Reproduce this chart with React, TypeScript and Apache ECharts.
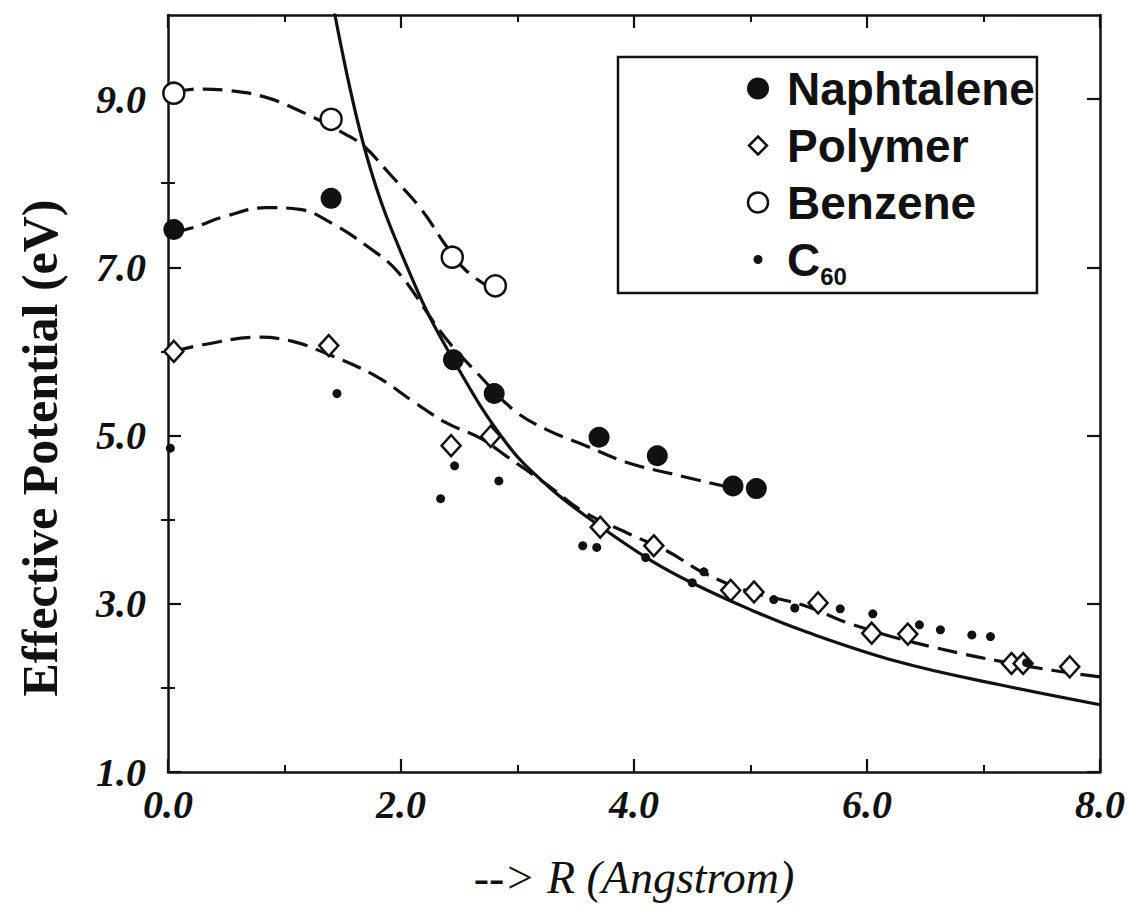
import React, { useEffect, useRef } from "react";
import * as echarts from "echarts";

// ---------- data ----------
const naphtaleneX = [0.05, 1.4, 2.45, 2.8, 3.7, 4.2, 4.85, 5.05];
const naphtaleneY = [7.45, 7.82, 5.9, 5.5, 4.98, 4.76, 4.4, 4.37];

const polymerX = [0.05, 1.38, 2.43, 2.77, 3.71, 4.17, 4.83, 5.03, 5.58, 6.04, 6.35, 7.24, 7.34, 7.74];
const polymerY = [6.0, 6.07, 4.88, 4.99, 3.91, 3.69, 3.16, 3.14, 3.01, 2.65, 2.64, 2.29, 2.29, 2.25];

const benzeneX = [0.05, 1.4, 2.44, 2.81];
const benzeneY = [9.07, 8.76, 7.12, 6.78];

const c60X = [0.02, 1.45, 2.34, 2.46, 2.84, 3.56, 3.68, 4.1, 4.5, 4.6, 5.2, 5.38, 5.77, 6.05, 6.45, 6.63, 6.9, 7.06, 7.37];
const c60Y = [4.85, 5.5, 4.25, 4.64, 4.46, 3.69, 3.67, 3.55, 3.25, 3.38, 3.05, 2.95, 2.94, 2.88, 2.75, 2.69, 2.63, 2.61, 2.3];

// fitted curves
const solidCurveX = [1.38, 1.7, 2.1, 2.47, 2.91, 3.26, 3.61, 4.14, 4.54, 5.0, 5.43, 6.27, 7.13, 8.0];
const solidCurveY = [10.4, 8.35, 6.85, 5.85, 4.9, 4.4, 4.02, 3.52, 3.22, 2.93, 2.69, 2.31, 2.04, 1.8];

const benzeneFitX = [0.05, 0.25, 0.53, 0.82, 1.1, 1.54, 1.69, 1.89, 2.18, 2.39, 2.56, 2.81];
const benzeneFitY = [9.08, 9.12, 9.1, 9.03, 8.88, 8.57, 8.43, 8.13, 7.68, 7.25, 6.96, 6.72];

const naphtaleneFitX = [0.05, 0.21, 0.5, 0.84, 1.13, 1.41, 1.71, 1.97, 2.37, 2.67, 2.97, 3.25, 3.55, 3.94, 4.37, 4.8];
const naphtaleneFitY = [7.42, 7.47, 7.61, 7.71, 7.69, 7.52, 7.25, 6.95, 6.18, 5.72, 5.3, 5.07, 4.9, 4.68, 4.53, 4.39];

const polymerFitX = [0.05, 0.3, 0.78, 1.07, 1.35, 1.78, 2.11, 2.39, 2.68, 2.91, 3.26, 3.56, 3.96, 4.28, 4.61, 5.0, 5.46, 5.86, 6.55, 7.41, 8.0];
const polymerFitY = [6.0, 6.08, 6.17, 6.12, 5.98, 5.71, 5.4, 5.15, 4.97, 4.75, 4.41, 4.1, 3.83, 3.63, 3.36, 3.14, 2.98, 2.76, 2.49, 2.25, 2.13];

const xTickLabels = [0, 2, 4, 6, 8];
const yTickLabels = [1, 3, 5, 7, 9];
const yMinorTicks = [2, 4, 6, 8];
const legendNames = ["Naphtalene", "Polymer", "Benzene", "C60"];

const INK = "#111";
const SERIF = "'Liberation Serif', 'Times New Roman', serif";
const SANS = "'Liberation Sans', Arial, sans-serif";

const zip = (xs: number[], ys: number[]) => xs.map((x, i) => [x, ys[i]]);

const svgIcon = (inner: string) =>
  "image://data:image/svg+xml;charset=utf-8," +
  encodeURIComponent(
    `<svg xmlns="http://www.w3.org/2000/svg" width="48" height="24" viewBox="0 0 48 24">${inner}</svg>`
  );

const legendIcons: Record<string, string> = {
  Naphtalene: svgIcon(`<circle cx="24" cy="12" r="11" fill="${INK}"/>`),
  Polymer: svgIcon(`<polygon points="24,3 33,12 24,21 15,12" fill="#fff" stroke="${INK}" stroke-width="2.5"/>`),
  Benzene: svgIcon(`<circle cx="24" cy="12" r="10" fill="#fff" stroke="${INK}" stroke-width="2.5"/>`),
  C60: svgIcon(`<circle cx="24" cy="12" r="4.5" fill="${INK}"/>`),
};

const XMIN = 0, XMAX = 8, YMIN = 1, YMAX = 10;

export default function App() {
  const ref = useRef<HTMLDivElement>(null);

  useEffect(() => {
    document.body.style.margin = "0";
    if (!ref.current) return;
    const chart = echarts.init(ref.current, null, { renderer: "svg" });

    const axisLine = { show: true, onZero: false, lineStyle: { color: INK, width: 2.5 } };
    const majorTick = { show: true, inside: true, length: 13, lineStyle: { color: INK, width: 2.2 } };
    const minorTickY = { show: true, inside: true, length: 7, lineStyle: { color: INK, width: 2 }, customValues: yMinorTicks };
    const tickLabel = {
      color: INK,
      fontFamily: SERIF,
      fontStyle: "italic" as const,
      fontWeight: "bold" as const,
      fontSize: 40,
    };

    const xBase = {
      type: "value" as const,
      min: XMIN,
      max: XMAX,
      interval: 2,
      splitLine: { show: false },
      minorSplitLine: { show: false },
      minorTick: { show: true, splitNumber: 2, length: 7, lineStyle: { color: INK, width: 2 } },
      axisTick: majorTick,
      axisLine,
    };
    const yBase = {
      type: "value" as const,
      min: YMIN,
      max: YMAX,
      interval: 2,
      splitLine: { show: false },
      axisLine,
      axisTick: { ...majorTick, customValues: yTickLabels },
    };

    const curve = (name: string, xs: number[], ys: number[], type: any) => ({
      name: name + " fit",
      type: "line" as const,
      data: zip(xs, ys),
      smooth: 0.4,
      showSymbol: false,
      symbol: "none",
      silent: true,
      z: 2,
      lineStyle: { color: INK, width: 3.2, type, opacity: 1 },
    });

    chart.setOption({
      animation: false,
      backgroundColor: "#fff",
      grid: { left: 168, right: 28, top: 15, bottom: 135 },
      xAxis: [
        {
          ...xBase,
          position: "bottom",
          axisLabel: {
            ...tickLabel,
            margin: 12,
            customValues: xTickLabels,
            formatter: (v: number) => v.toFixed(1),
          },
          name: "--> R (Angstrom)",
          nameLocation: "middle",
          nameGap: 82,
          nameTextStyle: { color: INK, fontFamily: SERIF, fontStyle: "italic", fontSize: 46 },
        },
        { ...xBase, position: "top", axisLabel: { show: false } },
      ],
      yAxis: [
        {
          ...yBase,
          position: "left",
          axisLabel: {
            ...tickLabel,
            margin: 22,
            customValues: yTickLabels,
            formatter: (v: number) => v.toFixed(1),
          },
        },
        {
          ...yBase,
          position: "left",
          axisLine: { show: false },
          axisLabel: { show: false },
          axisTick: minorTickY,
        },
        { ...yBase, position: "right", axisLabel: { show: false } },
        {
          ...yBase,
          position: "right",
          axisLine: { show: false },
          axisLabel: { show: false },
          axisTick: minorTickY,
        },
      ],
      legend: {
        data: legendNames.map((n) => ({ name: n, icon: legendIcons[n] })),
        orient: "vertical",
        left: 618,
        top: 57,
        padding: [3, 2, 5, 116],
        itemWidth: 48,
        itemHeight: 24,
        itemGap: 0,
        selectedMode: false,
        backgroundColor: "#fff",
        borderColor: INK,
        borderWidth: 2.5,
        borderRadius: 0,
        formatter: (name: string) => (name === "C60" ? "{c|C}{s|60}" : name),
        textStyle: {
          color: INK,
          fontFamily: SANS,
          fontWeight: "bold",
          fontSize: 46,
          lineHeight: 57,
          rich: {
            c: { color: INK, fontFamily: SANS, fontWeight: "bold", fontSize: 46, lineHeight: 57 },
            s: { color: INK, fontFamily: SANS, fontWeight: "bold", fontSize: 24, lineHeight: 57, verticalAlign: "bottom" },
          },
        },
      },
      graphic: [
        {
          type: "text",
          x: 40,
          y: 448,
          rotation: Math.PI / 2,
          style: {
            text: "Effective Potential (eV)",
            fill: INK,
            font: `bold 50px ${SERIF}`,
            align: "center",
            verticalAlign: "middle",
          },
        },
      ],
      series: [
        curve("Solid", solidCurveX, solidCurveY, "solid"),
        curve("Benzene", benzeneFitX, benzeneFitY, [20, 9]),
        curve("Naphtalene", naphtaleneFitX, naphtaleneFitY, [20, 9]),
        curve("Polymer", polymerFitX, polymerFitY, [20, 9]),
        {
          name: "Naphtalene",
          type: "scatter",
          data: zip(naphtaleneX, naphtaleneY),
          symbol: "circle",
          symbolSize: 21,
          z: 5,
          itemStyle: { color: INK, opacity: 1 },
        },
        {
          name: "Polymer",
          type: "scatter",
          data: zip(polymerX, polymerY),
          symbol: "diamond",
          symbolSize: [19, 21],
          z: 4,
          itemStyle: { color: "#fff", borderColor: INK, borderWidth: 2.5, opacity: 1 },
        },
        {
          name: "Benzene",
          type: "scatter",
          data: zip(benzeneX, benzeneY),
          symbol: "circle",
          symbolSize: 21,
          z: 4,
          itemStyle: { color: "#fff", borderColor: INK, borderWidth: 2.5, opacity: 1 },
        },
        {
          name: "C60",
          type: "scatter",
          data: zip(c60X, c60Y),
          symbol: "circle",
          symbolSize: 9,
          z: 6,
          itemStyle: { color: INK, opacity: 1 },
        },
      ],
    });

    return () => chart.dispose();
  }, []);

  return <div ref={ref} style={{ width: 1128, height: 907 }} />;
}
